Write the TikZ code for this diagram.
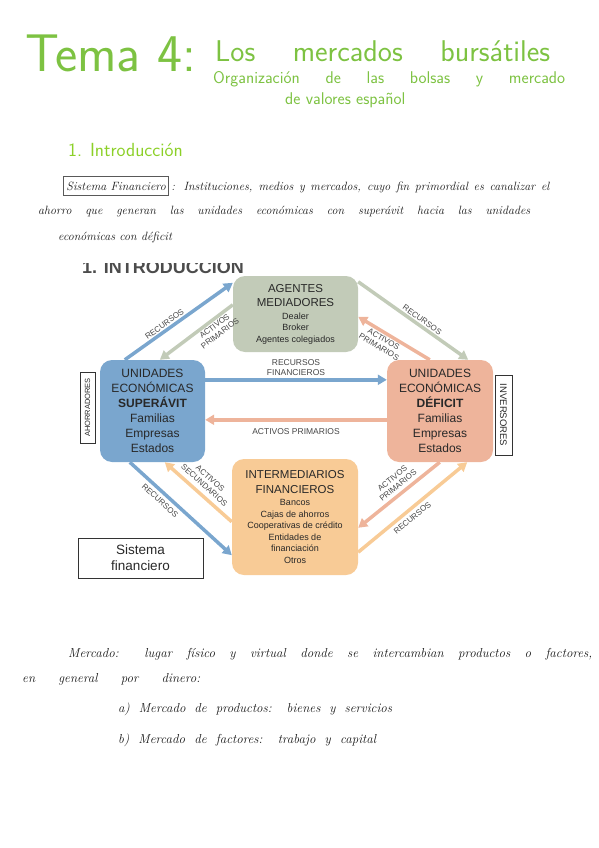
\documentclass[tikz,border=0pt]{standalone}
\usepackage{fontspec}
\newfontfamily\arial{Liberation Sans}
\usetikzlibrary{arrows.meta}
\definecolor{titlegreen}{RGB}{125,194,66}
\definecolor{limegreen}{RGB}{140,208,40}
\definecolor{blueunit}{RGB}{122,166,206}
\definecolor{sagegray}{RGB}{194,203,184}
\definecolor{salmon}{RGB}{238,180,155}
\definecolor{orangeint}{RGB}{248,203,150}
\definecolor{dtext}{RGB}{40,40,40}
\definecolor{ltext}{RGB}{70,70,70}
\newcommand\bigline[1]{{\fontsize{11.5}{14}\selectfont #1}}
\begin{document}
\begin{tikzpicture}[x=1pt, y=-1pt,
  hand/.style={anchor=base west, inner sep=0pt, text=black!90, font=\itshape\fontsize{#1}{#1}\selectfont},
  hand/.default=12,
  green title/.style={anchor=base west, inner sep=0pt, text=titlegreen, font=\sffamily\fontsize{#1}{#1}\selectfont},
  box/.style={rounded corners=12pt, align=center, inner sep=1pt, text=dtext, font=\arial\fontsize{12}{15}\selectfont},
  small box/.style={box, font=\arial\fontsize{9}{11.5}\selectfont},
  tag/.style={draw=black!80, line width=0.8pt, inner sep=0pt, text=dtext},
  flow/.style={line width=3.5pt, -{Triangle[length=9pt,width=10pt]}},
  lbl/.style={sloped, align=center, inner sep=1.5pt, text=ltext, font=\arial\fontsize{8}{9}\selectfont},
  hlbl/.style={align=center, inner sep=1pt, text=ltext, font=\arial\fontsize{8.5}{10}\selectfont}]
\useasboundingbox (0,0) rectangle (599,848);
% title
\node[green title=53] (tema) at (25,72) {Tema 4:};
\node[green title=30] (titulo) at (215,62) {\makebox[335pt][s]{Los mercados bursátiles}};
\node[green title=17] (sub1) at (213,84) {\makebox[352pt][s]{Organización de las bolsas y mercado}};
\node[green title=17] (sub2) at (285,105) {de valores español};
\node[anchor=base west, inner sep=0pt, text=limegreen, font=\sffamily\fontsize{19}{19}\selectfont] (intro) at (68,156) {1. Introducción};
% definition
\node[hand, anchor=base west, draw=black!65, line width=0.9pt, inner xsep=3pt, inner ysep=5pt] (sisdef) at (63,190) {Sistema Financiero};
\node[hand] (def1) at ([xshift=2pt]sisdef.base east) {\makebox[378pt][s]{: Instituciones, medios y mercados, cuyo fin primordial es canalizar el}};
\node[hand] (def2) at (38,214) {\makebox[492pt][s]{ahorro que generan las unidades económicas con superávit hacia las unidades}};
\node[hand] (def3) at (58,240) {económicas con déficit};
% clipped heading of the figure
\begin{scope}
\clip (60,263) rectangle (300,280);
\node[anchor=base west, inner sep=0pt, text=black!70, font=\arial\bfseries\fontsize{18}{18}\selectfont] (figtitle) at (82,273) {1. INTRODUCCIÓN};
\end{scope}
% boxes
\node[small box, fill=sagegray, minimum width=125pt, minimum height=76pt] (agentes) at (295.5,314)
  {\bigline{AGENTES}\\[3pt]\bigline{MEDIADORES}\\[1pt]Dealer\\Broker\\Agentes colegiados};
\node[box, fill=blueunit, minimum width=105pt, minimum height=102pt] (superavit) at (152.5,411)
  {UNIDADES\\ECONÓMICAS\\\textbf{SUPERÁVIT}\\Familias\\Empresas\\Estados};
\node[box, fill=salmon, minimum width=106pt, minimum height=102pt] (deficit) at (440,411)
  {UNIDADES\\ECONÓMICAS\\\textbf{DÉFICIT}\\Familias\\Empresas\\Estados};
\node[small box, fill=orangeint, minimum width=126pt, minimum height=116pt] (intermed) at (295,517)
  {\bigline{INTERMEDIARIOS}\\[3pt]\bigline{FINANCIEROS}\\[1pt]Bancos\\Cajas de ahorros\\Cooperativas de crédito\\Entidades de\\financiación\\Otros};
\node[tag, rotate=90, minimum width=71pt, minimum height=15pt, font=\arial\fontsize{7.5}{8}\selectfont] (ahorr) at (87.5,407.5) {AHORRADORES};
\node[tag, rotate=-90, minimum width=80pt, minimum height=17pt, font=\arial\fontsize{9.5}{10}\selectfont] (invers) at (503.5,415) {INVERSORES};
\node[tag, align=center, minimum width=125pt, minimum height=40pt, font=\arial\fontsize{13.5}{16}\selectfont] (sisfin) at (140.5,558) {Sistema\\financiero};
% flows at the top
\draw[flow, blueunit] ([xshift=25pt]superavit.north west) -- ([yshift=-7pt]agentes.north west)
  node[lbl, above, pos=0.4] (l1) {RECURSOS};
\draw[flow, sagegray] ([yshift=-29pt]agentes.north west) -- ([xshift=60pt]superavit.north west)
  node[lbl, below, pos=0.3] (l2) {ACTIVOS\\PRIMARIOS};
\draw[flow, sagegray] ([yshift=-6pt]agentes.north east) -- ([xshift=-25pt]deficit.north east)
  node[lbl, above, pos=0.55] (l3) {RECURSOS};
\draw[flow, salmon] ([xshift=43pt]deficit.north west) -- ([yshift=-41pt]agentes.north east)
  node[lbl, below, pos=0.6] (l4) {ACTIVOS\\PRIMARIOS};
% flows across
\draw[flow, blueunit] ([yshift=-20pt]superavit.north east) -- ([yshift=-20pt]deficit.north west)
  node[hlbl, above=1pt, midway] (l5) {RECURSOS\\FINANCIEROS};
\draw[flow, salmon] ([yshift=-60pt]deficit.north west) -- ([yshift=-60pt]superavit.north east)
  node[hlbl, below=6pt, midway] (l6) {ACTIVOS PRIMARIOS};
% flows at the bottom
\draw[flow, blueunit] ([xshift=30pt]superavit.south west) -- ([yshift=20pt]intermed.south west)
  node[lbl, below=2pt, pos=0.35] (l7) {RECURSOS};
\draw[flow, orangeint] ([yshift=-63pt]intermed.north west) -- ([xshift=65pt]superavit.south west)
  node[lbl, above=3pt, midway] (l8) {ACTIVOS\\SECUNDARIOS};
\draw[flow, salmon] ([xshift=53pt]deficit.south west) -- ([yshift=-69pt]intermed.north east)
  node[lbl, above=2pt, pos=0.45] (l9) {ACTIVOS\\PRIMARIOS};
\draw[flow, orangeint] ([yshift=23pt]intermed.south east) -- ([xshift=-26pt]deficit.south east)
  node[lbl, below=2pt, pos=0.45] (l10) {RECURSOS};
% notes below
\node[hand=13] (merc1) at (68,657) {\makebox[524pt][s]{Mercado: lugar físico y virtual donde se intercambian productos o factores,}};
\node[hand=13] (merc2) at (22,682) {\makebox[178pt][s]{en general por dinero:}};
\node[hand=13] (merca) at (118,712) {\makebox[274pt][s]{a) Mercado de productos: bienes y servicios}};
\node[hand=13] (mercb) at (118,743) {\makebox[258pt][s]{b) Mercado de factores: trabajo y capital}};
\end{tikzpicture}
\end{document}
